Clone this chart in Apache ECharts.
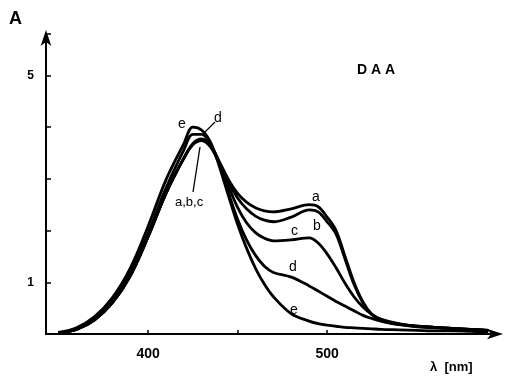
<!DOCTYPE html>
<html>
<head>
<meta charset="utf-8">
<script src="https://cdn.jsdelivr.net/npm/echarts@6/dist/echarts.min.js"></script>
<style>
  html, body { margin: 0; padding: 0; background: #fff; }
  #chart { width: 507px; height: 377px; }
</style>
</head>
<body>
<div id="chart"></div>
<script>
// wavelength (nm)
var wavelengths = [350,360,370,380,390,400,410,420,425,430,435,440,445,450,455,460,465,470,480,490,495,500,505,510,515,520,525,530,540,550,560,570,580,590];
// absorbance curves a..e
var curveA = [0.02,0.09,0.27,0.6,1.12,1.88,2.72,3.4,3.68,3.77,3.64,3.32,2.98,2.72,2.55,2.44,2.38,2.36,2.42,2.5,2.46,2.26,2.0,1.5,1.0,0.62,0.38,0.27,0.19,0.15,0.13,0.11,0.09,0.07];
var curveB = [0.02,0.09,0.27,0.6,1.12,1.88,2.72,3.4,3.67,3.75,3.62,3.3,2.93,2.63,2.42,2.28,2.2,2.17,2.26,2.4,2.36,2.17,1.93,1.45,0.96,0.6,0.37,0.26,0.19,0.15,0.13,0.11,0.09,0.07];
var curveC = [0.02,0.09,0.27,0.6,1.12,1.88,2.72,3.4,3.66,3.74,3.61,3.28,2.85,2.45,2.15,1.96,1.85,1.8,1.82,1.86,1.76,1.55,1.28,0.98,0.72,0.52,0.38,0.29,0.2,0.15,0.13,0.11,0.09,0.07];
var curveD = [0.02,0.1,0.29,0.63,1.17,1.95,2.82,3.56,3.86,3.86,3.66,3.26,2.72,2.22,1.82,1.52,1.31,1.19,1.1,0.93,0.83,0.73,0.63,0.54,0.45,0.36,0.3,0.25,0.18,0.14,0.12,0.1,0.08,0.07];
var curveE = [0.03,0.12,0.33,0.7,1.27,2.08,2.98,3.68,4.0,3.94,3.7,3.22,2.66,2.12,1.66,1.27,0.96,0.72,0.39,0.25,0.2,0.17,0.15,0.13,0.12,0.11,0.1,0.09,0.08,0.07,0.06,0.06,0.05,0.04];
var curveNames = ["a", "b", "c", "d", "e"];
var xTicks = [400, 450, 500];
var xLabels = [400, 500];
var yLabels = [1, 5];

function pairs(vals) {
  return wavelengths.map(function (w, i) { return [w, vals[i]]; });
}

var chart = echarts.init(document.getElementById("chart"));
var font = "'Liberation Sans', Arial, sans-serif";

var series = [curveA, curveB, curveC, curveD, curveE].map(function (vals, i) {
  return {
    name: curveNames[i],
    type: "line",
    data: pairs(vals),
    smooth: 0.35,
    showSymbol: false,
    lineStyle: { color: "#000", width: 2.8 }
  };
});

chart.setOption({
  animation: false,
  backgroundColor: "#fff",
  grid: { left: 46, right: 8, top: 34, bottom: 43 },
  xAxis: {
    type: "value",
    min: 343,
    max: 596,
    axisLine: {
      lineStyle: { color: "#000", width: 2 },
      symbol: ["none", "arrow"],
      symbolSize: [8, 16],
      symbolOffset: [0, 4]
    },
    axisTick: { inside: true, length: 4, customValues: xTicks, lineStyle: { color: "#000", width: 1.5 } },
    axisLabel: {
      customValues: xLabels,
      margin: 13,
      color: "#000",
      fontFamily: font,
      fontWeight: "bold",
      fontSize: 14
    },
    splitLine: { show: false }
  },
  yAxis: {
    type: "value",
    min: 0,
    max: 5.8,
    interval: 1,
    axisLine: {
      lineStyle: { color: "#000", width: 2 },
      symbol: ["none", "arrow"],
      symbolSize: [8, 16],
      symbolOffset: [0, 4]
    },
    axisTick: { inside: true, length: 5, lineStyle: { color: "#000", width: 1.5 } },
    axisLabel: {
      margin: 12,
      color: "#000",
      fontFamily: font,
      fontWeight: "bold",
      fontSize: 12,
      formatter: function (v) { return yLabels.indexOf(v) >= 0 ? String(v) : ""; }
    },
    splitLine: { show: false }
  },
  graphic: [
    { type: "text", left: 9, top: 10, style: { text: "A", font: "bold 18px " + font, fill: "#000" } },
    { type: "text", left: 357, top: 63, style: { text: "D A A", font: "bold 14px " + font, fill: "#000" } },
    { type: "text", left: 430, top: 361, style: { text: "λ  [nm]", font: "bold 13px " + font, fill: "#000" } },
    // curve labels
    { type: "text", left: 178, top: 117, style: { text: "e", font: "14px " + font, fill: "#000" } },
    { type: "text", left: 214, top: 111, style: { text: "d", font: "14px " + font, fill: "#000" } },
    { type: "text", left: 175, top: 196, style: { text: "a,b,c", font: "13px " + font, fill: "#000" } },
    { type: "text", left: 312, top: 190, style: { text: "a", font: "14px " + font, fill: "#000" } },
    { type: "text", left: 313, top: 219, style: { text: "b", font: "14px " + font, fill: "#000" } },
    { type: "text", left: 291, top: 224, style: { text: "c", font: "14px " + font, fill: "#000" } },
    { type: "text", left: 289, top: 260, style: { text: "d", font: "14px " + font, fill: "#000" } },
    { type: "text", left: 290, top: 303, style: { text: "e", font: "14px " + font, fill: "#000" } },
    // leader lines
    { type: "line", shape: { x1: 215, y1: 122, x2: 205, y2: 132 }, style: { stroke: "#000", lineWidth: 1.3 } },
    { type: "line", shape: { x1: 193, y1: 192, x2: 200, y2: 147 }, style: { stroke: "#000", lineWidth: 1.3 } }
  ],
  series: series
});
</script>
</body>
</html>
